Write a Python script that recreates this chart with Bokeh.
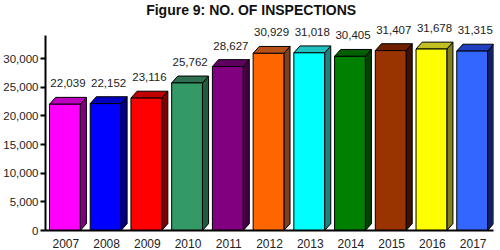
from bokeh.plotting import figure
from bokeh.models import Range1d, FixedTicker, NumeralTickFormatter, ColumnDataSource
from bokeh.embed import file_html
from bokeh.resources import INLINE

years = ["2007", "2008", "2009", "2010", "2011", "2012", "2013", "2014", "2015", "2016", "2017"]
inspections = [22039, 22152, 23116, 25762, 28627, 30929, 31018, 30405, 31407, 31678, 31315]
front_colors = ["#FF00FF", "#0000FF", "#FF0000", "#339966", "#800080", "#FF6600",
                "#00FFFF", "#008000", "#993300", "#FFFF00", "#3366FF"]
top_colors = ["#C000C0", "#0000C0", "#C00000", "#2E7050", "#600060", "#B8501A",
              "#20C0C0", "#006000", "#702000", "#C0C020", "#2040C0"]
side_colors = ["#800080", "#000080", "#800000", "#1F5C3D", "#400040", "#80401A",
               "#208080", "#004000", "#401000", "#808020", "#102060"]
y_ticks = [0, 5000, 10000, 15000, 20000, 25000, 30000]
title_text = "Figure 9: NO. OF INSPECTIONS"

FONT = "Liberation Sans"
n = len(years)
bw = 0.756      # front width in category units
x0 = 0.098      # left gap
dx = 0.15       # depth in x
dy = 1200       # depth in y
axis_top = 34000
y_end = 39800

p = figure(width=500, height=250, output_backend="svg", toolbar_location=None,
           x_range=Range1d(0, n), y_range=Range1d(0, y_end),
           min_border_left=42, min_border_right=7, min_border_bottom=16, min_border_top=2)
p.outline_line_color = None
p.xgrid.visible = False
p.ygrid.visible = False
p.background_fill_color = "white"
p.border_fill_color = "white"

fx, fy, tx, ty, sx, sy = [], [], [], [], [], []
for i, v in enumerate(inspections):
    l = i + x0
    r = l + bw
    fx.append([l, r, r, l]); fy.append([0, 0, v, v])
    tx.append([l, r, r + dx, l + dx]); ty.append([v, v, v + dy, v + dy])
    sx.append([r, r + dx, r + dx, r]); sy.append([0, dy, v + dy, v])

p.patches(xs=sx, ys=sy, fill_color=side_colors, line_color="black", line_width=1)
p.patches(xs=tx, ys=ty, fill_color=top_colors, line_color="black", line_width=1)
p.patches(xs=fx, ys=fy, fill_color=front_colors, line_color="black", line_width=1)

src = ColumnDataSource(dict(x=[i + x0 + bw / 2 + dx / 2 for i in range(n)],
                            y=inspections,
                            t=[f"{v:,}" for v in inspections]))
p.text(x="x", y="y", text="t", source=src, text_align="center", text_baseline="middle",
       y_offset=-21, text_font_size="11.5px", text_color="#222222",
       text_font={"value": FONT})

# title, drawn at the top of the frame
p.text(x=[5.05], y=[y_end], text=[title_text], text_align="center", text_baseline="middle",
       y_offset=7, text_font_size="14px", text_font_style="bold", text_color="#111111",
       text_font={"value": FONT})

p.yaxis.ticker = FixedTicker(ticks=y_ticks)
p.yaxis.bounds = (0, axis_top)
p.yaxis.formatter = NumeralTickFormatter(format="0,0")
p.yaxis.major_tick_out = 5
p.yaxis.major_tick_in = 0
p.yaxis.minor_tick_line_color = None
p.yaxis.axis_line_width = 2
p.yaxis.major_tick_line_width = 2
p.yaxis.major_label_text_font = FONT
p.yaxis.major_label_text_font_size = "11.5px"
p.yaxis.major_label_text_color = "#222222"
p.yaxis.major_label_standoff = 2

p.xaxis.ticker = FixedTicker(ticks=[i + 0.5 for i in range(n)])
p.xaxis.major_label_overrides = {i + 0.5: y for i, y in enumerate(years)}
p.xaxis.major_tick_line_color = None
p.xaxis.minor_tick_line_color = None
p.xaxis.axis_line_width = 2
p.xaxis.major_label_text_font = FONT
p.xaxis.major_label_text_font_size = "12px"
p.xaxis.major_label_text_color = "#222222"
p.xaxis.major_label_standoff = 2

open("out.html", "w").write(file_html(p, INLINE))
